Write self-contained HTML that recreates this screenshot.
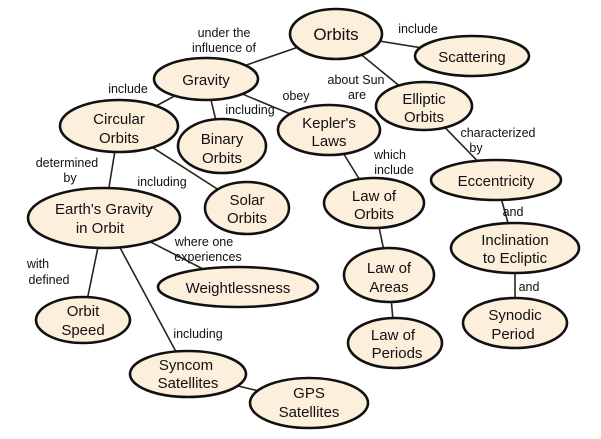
<!DOCTYPE html>
<html><head><meta charset="utf-8"><style>
html,body{margin:0;padding:0;background:#fff;}
svg{display:block;}
text{font-family:"Liberation Sans",sans-serif;fill:#111;}
.n{font-size:15px;text-anchor:middle;}
.l{font-size:12.5px;text-anchor:middle;fill:#111;}
ellipse{fill:#fcefdb;stroke:#111;stroke-width:2.6;}
line{stroke:#2a2418;stroke-width:1.6;}
</style></head><body>
<svg width="601" height="439" viewBox="0 0 601 439">
<g>
<line x1="336" y1="34" x2="206" y2="79"/>
<line x1="336" y1="34" x2="472" y2="56"/>
<line x1="336" y1="34" x2="424" y2="106"/>
<line x1="206" y1="79" x2="119" y2="126"/>
<line x1="206" y1="79" x2="222" y2="146"/>
<line x1="206" y1="79" x2="329" y2="130"/>
<line x1="119" y1="126" x2="104" y2="218"/>
<line x1="119" y1="126" x2="247" y2="208"/>
<line x1="424" y1="106" x2="496" y2="180"/>
<line x1="329" y1="130" x2="374" y2="203"/>
<line x1="374" y1="203" x2="389" y2="275"/>
<line x1="389" y1="275" x2="395" y2="343"/>
<line x1="496" y1="180" x2="515" y2="248"/>
<line x1="515" y1="248" x2="515" y2="323"/>
<line x1="104" y1="218" x2="83" y2="320"/>
<line x1="104" y1="218" x2="238" y2="287"/>
<line x1="104" y1="218" x2="188" y2="374"/>
<line x1="188" y1="374" x2="309" y2="403"/>
</g>
<ellipse cx="336" cy="34" rx="46" ry="25"/><text class="n" x="336" y="40" style="font-size:17px">Orbits</text>
<ellipse cx="472" cy="56" rx="57" ry="20"/><text class="n" x="472" y="62">Scattering</text>
<ellipse cx="424" cy="106" rx="48" ry="24"/><text class="n" x="424" y="104">Elliptic</text><text class="n" x="424" y="122">Orbits</text>
<ellipse cx="206" cy="79" rx="52" ry="21"/><text class="n" x="206" y="85">Gravity</text>
<ellipse cx="119" cy="126" rx="59" ry="26"/><text class="n" x="119" y="124">Circular</text><text class="n" x="119" y="143">Orbits</text>
<ellipse cx="222" cy="146" rx="44" ry="27"/><text class="n" x="222" y="144">Binary</text><text class="n" x="222" y="163">Orbits</text>
<ellipse cx="329" cy="130" rx="51" ry="25"/><text class="n" x="329" y="128">Kepler's</text><text class="n" x="329" y="146">Laws</text>
<ellipse cx="496" cy="180" rx="65" ry="20"/><text class="n" x="496" y="186">Eccentricity</text>
<ellipse cx="247" cy="208" rx="42" ry="26"/><text class="n" x="247" y="205">Solar</text><text class="n" x="247" y="223">Orbits</text>
<ellipse cx="104" cy="218" rx="76" ry="30"/><text class="n" x="104" y="214">Earth's Gravity</text><text class="n" x="100" y="233">in Orbit</text>
<ellipse cx="374" cy="203" rx="50" ry="25"/><text class="n" x="374" y="201">Law of</text><text class="n" x="374" y="219">Orbits</text>
<ellipse cx="515" cy="248" rx="64" ry="25"/><text class="n" x="515" y="245">Inclination</text><text class="n" x="515" y="263">to Ecliptic</text>
<ellipse cx="238" cy="287" rx="80" ry="20"/><text class="n" x="238" y="293">Weightlessness</text>
<ellipse cx="389" cy="275" rx="45" ry="27"/><text class="n" x="389" y="273">Law of</text><text class="n" x="389" y="292">Areas</text>
<ellipse cx="83" cy="320" rx="47" ry="23"/><text class="n" x="83" y="316">Orbit</text><text class="n" x="83" y="335">Speed</text>
<ellipse cx="515" cy="323" rx="52" ry="25"/><text class="n" x="515" y="320">Synodic</text><text class="n" x="513" y="339">Period</text>
<ellipse cx="395" cy="343" rx="47" ry="25"/><text class="n" x="393" y="340">Law of</text><text class="n" x="397" y="358">Periods</text>
<ellipse cx="188" cy="374" rx="58" ry="23"/><text class="n" x="186" y="370">Syncom</text><text class="n" x="188" y="388">Satellites</text>
<ellipse cx="309" cy="403" rx="59" ry="25"/><text class="n" x="309" y="398">GPS</text><text class="n" x="309" y="417">Satellites</text>

<text class="l" x="224" y="37">under the</text><text class="l" x="224" y="52">influence of</text>
<text class="l" x="128" y="93">include</text>
<text class="l" x="250" y="114">including</text>
<text class="l" x="296" y="100">obey</text>
<text class="l" x="356" y="84">about Sun</text><text class="l" x="357" y="99">are</text>
<text class="l" x="418" y="33">include</text>
<text class="l" x="498" y="137">characterized</text><text class="l" x="476" y="152">by</text>
<text class="l" x="390" y="159">which</text><text class="l" x="394" y="174">include</text>
<text class="l" x="67" y="167">determined</text><text class="l" x="70" y="182">by</text>
<text class="l" x="162" y="186">including</text>
<text class="l" x="204" y="246">where one</text><text class="l" x="208" y="261">experiences</text>
<text class="l" x="38" y="268">with</text><text class="l" x="49" y="284">defined</text>
<text class="l" x="198" y="338">including</text>
<text class="l" x="513" y="216">and</text>
<text class="l" x="529" y="291">and</text>
</svg>
</body></html>
